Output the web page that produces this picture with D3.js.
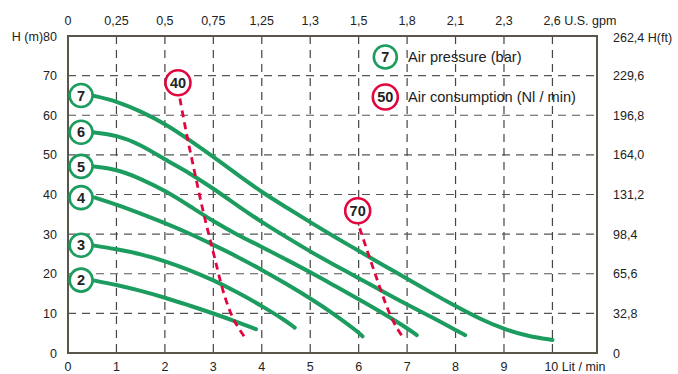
<!DOCTYPE html>
<html>
<head>
<meta charset="utf-8">
<script src="https://cdn.jsdelivr.net/npm/d3@7"></script>
<style>
  body { margin: 0; background: #fff; }
  svg text { font-family: "Liberation Sans", Arial, sans-serif; }
</style>
</head>
<body>
<div id="chart"></div>
<script>
// bottom axis (Lit/min) and matching top axis labels (U.S. gpm)
const flowTicks = [0, 1, 2, 3, 4, 5, 6, 7, 8, 9, 10];
const gpmLabels = ["0", "0,25", "0,5", "0,75", "1,25", "1,3", "1,5", "1,8", "2,1", "2,3", "2,6"];
const headTicks = [0, 10, 20, 30, 40, 50, 60, 70, 80];
const feetLabels = ["0", "32,8", "65,6", "98,4", "131,2", "164,0", "196,8", "229,6", "262,4"];

// pump curves, one per air pressure (bar): [flow l/min, head m]
const curve7 = [[0.5, 65], [1, 63.6], [1.5, 61], [2, 57.9], [2.5, 53.8], [3, 49.5], [3.5, 45], [4, 40.6],
  [4.5, 36.8], [5, 33], [5.5, 29.3], [6, 25.8], [6.5, 22.2], [7, 18.8], [7.5, 15.2], [8, 11.8],
  [8.5, 8.6], [9, 6], [9.5, 4.2], [10, 3.3]];
const curve6 = [[0.5, 55.7], [1, 55], [1.5, 52.6], [2, 48.8], [2.5, 45.5], [3, 41.5], [3.5, 37.2], [4, 33],
  [4.5, 29.3], [5, 25.6], [5.5, 22.2], [6, 18.9], [6.5, 15.5], [7, 12.2], [7.5, 9.1], [8, 5.8], [8.2, 4.5]];
const curve5 = [[0.5, 47.1], [1, 46.4], [1.5, 44], [2, 41], [2.5, 37.2], [3, 33.2], [3.5, 29.8], [4, 26.8],
  [4.5, 23.6], [5, 20.4], [5.5, 17], [6, 13.6], [6.5, 10.1], [7, 6.3], [7.2, 4.5]];
const curve4 = [[0.56, 39.2], [1, 37.5], [1.5, 35.2], [2, 32.8], [2.5, 30.2], [3, 27.3], [3.5, 24.3], [4, 21],
  [4.5, 17.5], [5, 13.8], [5.5, 9.8], [6, 5.2], [6.08, 4.2]];
const curve3 = [[0.49, 27.2], [1, 26.2], [1.5, 25], [2, 23.2], [2.5, 21], [3, 18.4], [3.5, 15.3], [4, 11.9],
  [4.5, 8.1], [4.68, 6.4]];
const curve2 = [[0.49, 18.4], [1, 17.2], [1.5, 15.7], [2, 14], [2.5, 12], [3, 10], [3.5, 7.8], [3.88, 6]];
const pressures = [7, 6, 5, 4, 3, 2];
const pumpCurves = [curve7, curve6, curve5, curve4, curve3, curve2];

// air consumption lines (Nl/min)
const air40 = [[2.31, 64.2], [2.45, 55], [2.55, 49.4], [2.79, 35.3], [3.0, 25.6], [3.17, 16.6], [3.34, 10.3], [3.51, 6.3], [3.69, 3.3]];
const air70 = [[6.02, 31.5], [6.2, 25], [6.43, 16.7], [6.64, 9.6], [6.8, 6], [6.93, 3.7]];
const airLabels = [{ text: "40", x: 2.27, y: 68.2 }, { text: "70", x: 5.98, y: 35.9 }];

const width = 678, height = 374;
const margin = { left: 68, right: 81, top: 36, bottom: 21 };
const green = "#1c9c5f", red = "#e2063f", frame = "#5a574a";

const svg = d3.select("#chart").append("svg")
  .attr("width", width).attr("height", height);

const x = d3.scaleLinear().domain([0, 10.92]).range([margin.left, width - margin.right]);
const y = d3.scaleLinear().domain([0, 80]).range([height - margin.bottom, margin.top]);

// grid
svg.append("g").selectAll("line").data(flowTicks.slice(1)).join("line")
  .attr("x1", d => x(d)).attr("x2", d => x(d))
  .attr("y1", y(80)).attr("y2", y(0))
  .attr("stroke", "#444").attr("stroke-width", 1.2).attr("stroke-dasharray", "8,6");
svg.append("g").selectAll("line").data(headTicks.slice(1, -1)).join("line")
  .attr("x1", x(0)).attr("x2", x(10.92))
  .attr("y1", d => y(d)).attr("y2", d => y(d))
  .attr("stroke", "#555").attr("stroke-width", 1.2).attr("stroke-dasharray", "8,6");

// frame
svg.append("rect")
  .attr("x", x(0)).attr("y", y(80))
  .attr("width", x(10.92) - x(0)).attr("height", y(0) - y(80))
  .attr("fill", "none").attr("stroke", frame).attr("stroke-width", 2);

// tick labels
const lab = svg.append("g").attr("font-size", 12.5).attr("fill", "#222");
lab.selectAll(".b").data(flowTicks).join("text")
  .attr("x", d => d === 10 ? x(d) - 8 : x(d)).attr("y", 370.5)
  .attr("text-anchor", d => d === 10 ? "start" : "middle")
  .text(d => d === 10 ? "10 Lit / min" : d);
lab.selectAll(".t").data(gpmLabels).join("text")
  .attr("x", (d, i) => i === 10 ? x(i) - 9 : x(i)).attr("y", 25)
  .attr("text-anchor", (d, i) => i === 10 ? "start" : "middle")
  .text((d, i) => i === 10 ? d + " U.S. gpm" : d);
lab.selectAll(".l").data(headTicks).join("text")
  .attr("x", 57).attr("y", d => y(d) + 4.5)
  .attr("text-anchor", "end")
  .text(d => d === 80 ? "H (m)80" : d);
lab.selectAll(".r").data(feetLabels).join("text")
  .attr("x", 613).attr("y", (d, i) => y(headTicks[i]) + (i === 8 ? 6 : 4.5))
  .text((d, i) => i === 8 ? d + " H(ft)" : d);

// pump curves
const line = d3.line().x(d => x(d[0])).y(d => y(d[1])).curve(d3.curveBasis);
svg.append("g").selectAll("path").data(pumpCurves).join("path")
  .attr("d", line)
  .attr("fill", "none").attr("stroke", green).attr("stroke-width", 4).attr("stroke-linecap", "round");

// air consumption dashed lines
const airLine = d3.line().x(d => x(d[0])).y(d => y(d[1])).curve(d3.curveBasis);
svg.append("g").selectAll("path").data([air40, air70]).join("path")
  .attr("d", airLine)
  .attr("fill", "none").attr("stroke", red).attr("stroke-width", 2.8).attr("stroke-dasharray", "7,5");

function badge(cx, cy, text, color) {
  const g = svg.append("g");
  g.append("circle").attr("cx", cx).attr("cy", cy).attr("r", text.length > 1 ? 12.5 : 11.5)
    .attr("fill", "#fff").attr("stroke", color).attr("stroke-width", 2.6);
  g.append("text").attr("x", cx).attr("y", cy + 5.2)
    .attr("text-anchor", "middle").attr("font-size", 14.5)
    .attr("font-weight", "bold").attr("fill", "#222").text(text);
}

// pressure badges at the start of each curve
pumpCurves.forEach((c, i) => badge(x(0.27), y(c[0][1]), String(pressures[i]), green));
airLabels.forEach(a => badge(x(a.x), y(a.y), a.text, red));

// legend
badge(x(6.55), 57, "7", green);
badge(x(6.55), 97, "50", red);
const leg = svg.append("g").attr("font-size", 14.6).attr("fill", "#222")
  .style("font-family", "Lato, sans-serif");
leg.append("text").attr("x", 408).attr("y", 62).text("Air pressure (bar)");
leg.append("text").attr("x", 408).attr("y", 102).text("Air consumption (Nl / min)");
</script>
</body>
</html>
